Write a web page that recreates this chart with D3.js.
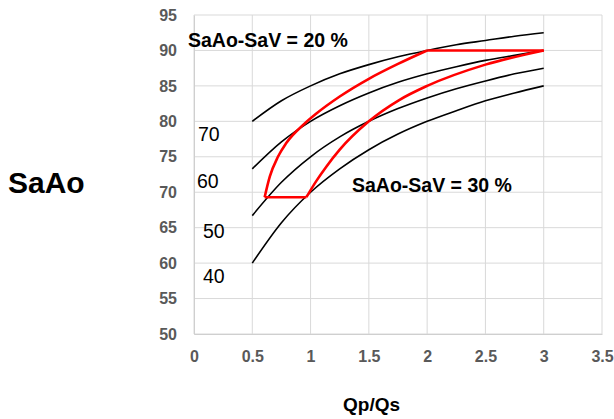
<!DOCTYPE html>
<html>
<head>
<meta charset="utf-8">
<script src="https://cdn.jsdelivr.net/npm/d3@7"></script>
<style>
  html, body { margin: 0; padding: 0; background: #fff; }
  svg { display: block; font-family: "Liberation Sans", Arial, sans-serif; }
</style>
</head>
<body>
<svg id="chart" width="614" height="419"></svg>
<script>
// ---- Data ----
const xTicks = [0, 0.5, 1, 1.5, 2, 2.5, 3, 3.5];
const yTicks = [50, 55, 60, 65, 70, 75, 80, 85, 90, 95];
const qpqs = [0.5, 0.75, 1, 1.25, 1.5, 1.75, 2, 2.25, 2.5, 2.75, 3];
const curveLabels = ["70", "60", "50", "40"];
const sat70 = [80, 82.9, 85, 86.7, 88, 89.1, 90, 90.8, 91.4, 92, 92.5];
const sat60 = [73.3, 77.1, 80, 82.2, 84, 85.5, 86.7, 87.7, 88.6, 89.3, 90];
const sat50 = [66.7, 71.4, 75, 77.8, 80, 81.8, 83.3, 84.6, 85.7, 86.7, 87.5];
const sat40 = [60, 65.7, 70, 73.3, 76, 78.2, 80, 81.5, 82.9, 84, 85];
const diff20X = [0.606, 0.65, 0.72, 0.79, 0.95, 1.05, 1.25, 1.5, 1.75, 2];
const diff20Y = [69.3, 72.2, 75, 76.9, 79.7, 81.1, 83.5, 86, 88.1, 90];
const diff30X = [0.964, 1.05, 1.135, 1.25, 1.5, 1.76, 2, 2.5, 3];
const diff30Y = [69.3, 71.6, 73.6, 76, 80, 83, 85, 88, 90];
const topX = [2, 3], topY = [90, 90];
const botX = [0.606, 0.964], botY = [69.3, 69.3];
const annot20 = "SaAo-SaV = 20 %";
const annot30 = "SaAo-SaV = 30 %";
const yTitle = "SaAo";
const xTitle = "Qp/Qs";

// ---- Layout ----
const svg = d3.select("#chart");
const x = d3.scaleLinear().domain([0, 3.5]).range([194, 602]);
const y = d3.scaleLinear().domain([50, 95]).range([334, 15]);

// gridlines
svg.append("g").selectAll("line.h").data(yTicks).join("line")
  .attr("x1", x(0)).attr("x2", x(3.5))
  .attr("y1", d => y(d)).attr("y2", d => y(d))
  .attr("stroke", "#d9d9d9").attr("stroke-width", 1);
svg.append("g").selectAll("line.v").data(xTicks).join("line")
  .attr("x1", d => x(d)).attr("x2", d => x(d))
  .attr("y1", y(50)).attr("y2", y(95))
  .attr("stroke", "#d9d9d9").attr("stroke-width", 1);

// axes (labels only)
const yAxis = d3.axisLeft(y).tickValues(yTicks).tickSize(0).tickPadding(17).tickFormat(d3.format("d"));
const gy = svg.append("g").attr("transform", `translate(${x(0)},0)`).call(yAxis);
gy.select(".domain").attr("stroke", "#cfcfcf");
gy.selectAll("text").attr("font-size", 16).attr("font-weight", "bold").attr("fill", "#595959")
  .attr("font-family", "Liberation Sans, Arial, sans-serif");

const xAxis = d3.axisBottom(x).tickValues(xTicks).tickSize(0).tickPadding(17).tickFormat(d => d3.format("")(d));
const gx = svg.append("g").attr("transform", `translate(0,${y(50)})`).call(xAxis);
gx.select(".domain").attr("stroke", "#cfcfcf");
gx.selectAll("text").attr("font-size", 16).attr("font-weight", "bold").attr("fill", "#595959")
  .attr("font-family", "Liberation Sans, Arial, sans-serif");

// black curves
const line = d3.line().x(d => x(d[0])).y(d => y(d[1])).curve(d3.curveMonotoneX);
[sat70, sat60, sat50, sat40].forEach(s => {
  svg.append("path").datum(qpqs.map((q, i) => [q, s[i]]))
    .attr("d", line).attr("fill", "none").attr("stroke", "#000").attr("stroke-width", 1.6);
});

// red loop
const redLine = d3.line().x(d => x(d[0])).y(d => y(d[1])).curve(d3.curveMonotoneX);
[[diff20X, diff20Y], [diff30X, diff30Y], [topX, topY], [botX, botY]].forEach(([xs, ys]) => {
  svg.append("path").datum(xs.map((v, i) => [v, ys[i]]))
    .attr("d", redLine).attr("fill", "none").attr("stroke", "#ff0000")
    .attr("stroke-width", 2.6).attr("stroke-linejoin", "round");
});

// curve labels
const labelPos = [[0.034, 77.27], [0.026, 70.55], [0.077, 63.5], [0.077, 57.15]];
svg.append("g").selectAll("text").data(curveLabels).join("text")
  .attr("x", (d, i) => x(labelPos[i][0])).attr("y", (d, i) => y(labelPos[i][1]))
  .attr("font-size", 19.5).attr("fill", "#000").text(d => d);

// annotations
svg.append("text").attr("x", 188).attr("y", 46.5).attr("font-size", 19.5).attr("font-weight", "bold").text(annot20);
svg.append("text").attr("x", 352).attr("y", 191.5).attr("font-size", 19.5).attr("font-weight", "bold").text(annot30);

// axis titles
svg.append("text").attr("x", 8).attr("y", 193).attr("font-size", 30).attr("font-weight", "bold").text(yTitle);
svg.append("text").attr("x", 343).attr("y", 411).attr("font-size", 19).attr("font-weight", "bold").text(xTitle);
</script>
</body>
</html>
